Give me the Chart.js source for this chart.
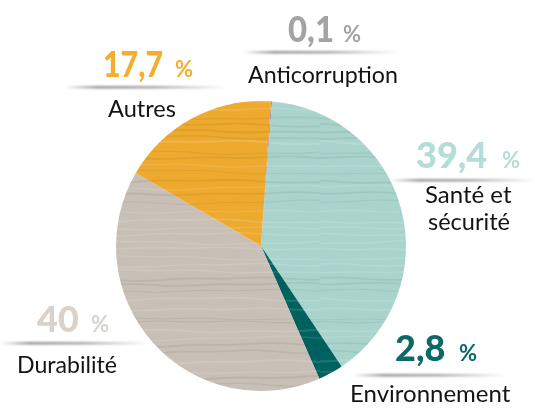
<!DOCTYPE html>
<html lang="fr">
<head>
<meta charset="utf-8">
<script src="https://cdn.jsdelivr.net/npm/chart.js@4.4.1/dist/chart.umd.min.js"></script>
<style>
  html, body { margin: 0; padding: 0; background: #ffffff; }
  #wrap { width: 535px; height: 408px; position: relative; }
</style>
</head>
<body>
<div id="wrap"><canvas id="pie" width="535" height="408"></canvas></div>
<script>
// Répartition des signalements par thème (%), dans le sens horaire depuis le haut
const categories = ['Anticorruption', 'Santé et sécurité', 'Environnement', 'Durabilité', 'Autres'];
const shares = [0.1, 39.4, 2.8, 40, 17.7];
const sliceColors = ['#8e6fb0', '#a9d4cd', '#00625f', '#c8bfb6', '#eeaa2f'];
const valueColors = ['#a3a3a3', '#b3ddd6', '#0b6966', '#dad2ca', '#f5ad2e'];

// Placement des étiquettes autour du camembert
const labelLayout = [
  { num: [288, 42], pct: [343, 42], numW: 46, line: [243, 52, 398], lines: [['Anticorruption', 248, 83, 150]] },
  { num: [416, 168], pct: [502, 168], numW: 77, line: [390, 180, 535], lines: [['Santé et', 425, 203, 88], ['sécurité', 428, 230, 82]] },
  { num: [395, 361], pct: [459, 361], numW: 54, line: [353, 375, 507], lines: [['Environnement', 350, 402, 162]] },
  { num: [37, 332], pct: [91, 332], numW: 44, line: [0, 343, 150], lines: [['Durabilité', 17, 373, 100]] },
  { num: [103, 77], pct: [175, 77], numW: 60, line: [65, 87, 227], lines: [['Autres', 108, 117, 68]] }
];

function formatShare(v) {
  return String(v).replace('.', ',');
}

// Motif « bois » légèrement ondulé pour le remplissage des parts
function texture(color) {
  const c = document.createElement('canvas');
  c.width = 320; c.height = 320;
  const g = c.getContext('2d');
  g.fillStyle = color;
  g.fillRect(0, 0, c.width, c.height);
  let seed = 7;
  const rnd = () => { seed = (seed * 16807) % 2147483647; return seed / 2147483647; };
  for (let y = 2; y < c.height; y += 5 + rnd() * 5) {
    const amp = 0.6 + rnd() * 1.4;
    const ph = rnd() * Math.PI * 2;
    const light = rnd() > 0.5;
    g.strokeStyle = light ? 'rgba(255,255,255,0.13)' : 'rgba(0,0,0,0.06)';
    g.lineWidth = 1 + rnd() * 1.2;
    g.beginPath();
    for (let x = 0; x <= c.width; x += 4) {
      const yy = y + amp * Math.sin(x / 40 + ph) + 0.6 * Math.sin(x / 13 + ph * 2);
      if (x === 0) g.moveTo(x, yy); else g.lineTo(x, yy);
    }
    g.stroke();
  }
  return g.createPattern(c, 'repeat');
}

const labelPlugin = {
  id: 'pieLabels',
  afterDraw(chart) {
    const ctx = chart.ctx;
    ctx.save();
    ctx.textBaseline = 'alphabetic';
    ctx.textAlign = 'left';
    labelLayout.forEach((lay, i) => {
      // trait ombré sous la valeur
      const [x0, ly, x1] = lay.line;
      const grad = ctx.createLinearGradient(x0, 0, x1, 0);
      grad.addColorStop(0, 'rgba(60,60,60,0)');
      grad.addColorStop(0.2, 'rgba(60,60,60,0.55)');
      grad.addColorStop(0.55, 'rgba(60,60,60,0.45)');
      grad.addColorStop(1, 'rgba(60,60,60,0)');
      ctx.save();
      ctx.filter = 'blur(0.8px)';
      ctx.fillStyle = grad;
      ctx.fillRect(x0, ly - 1, x1 - x0, 2.5);
      ctx.restore();

      // valeur
      ctx.fillStyle = valueColors[i];
      ctx.font = '900 36px Lato, "DejaVu Sans", sans-serif';
      ctx.fillText(formatShare(shares[i]), lay.num[0], lay.num[1], lay.numW);
      ctx.font = 'bold 22px Lato, "DejaVu Sans", sans-serif';
      ctx.fillText('%', lay.pct[0], lay.pct[1], 19);

      // libellé
      ctx.fillStyle = '#141414';
      ctx.font = '24px Lato, "DejaVu Sans", sans-serif';
      lay.lines.forEach(([t, x, y, w]) => ctx.fillText(t, x, y, w));
    });
    ctx.restore();
  }
};

new Chart(document.getElementById('pie'), {
  type: 'pie',
  data: {
    labels: categories,
    datasets: [{
      data: shares,
      backgroundColor: sliceColors.map(texture),
      borderWidth: 0
    }]
  },
  options: {
    responsive: false,
    animation: false,
    rotation: 4,
    layout: { padding: { left: 116, right: 129, top: 101, bottom: 17 } },
    plugins: {
      legend: { display: false },
      tooltip: { enabled: false }
    }
  },
  plugins: [labelPlugin]
});
</script>
</body>
</html>
